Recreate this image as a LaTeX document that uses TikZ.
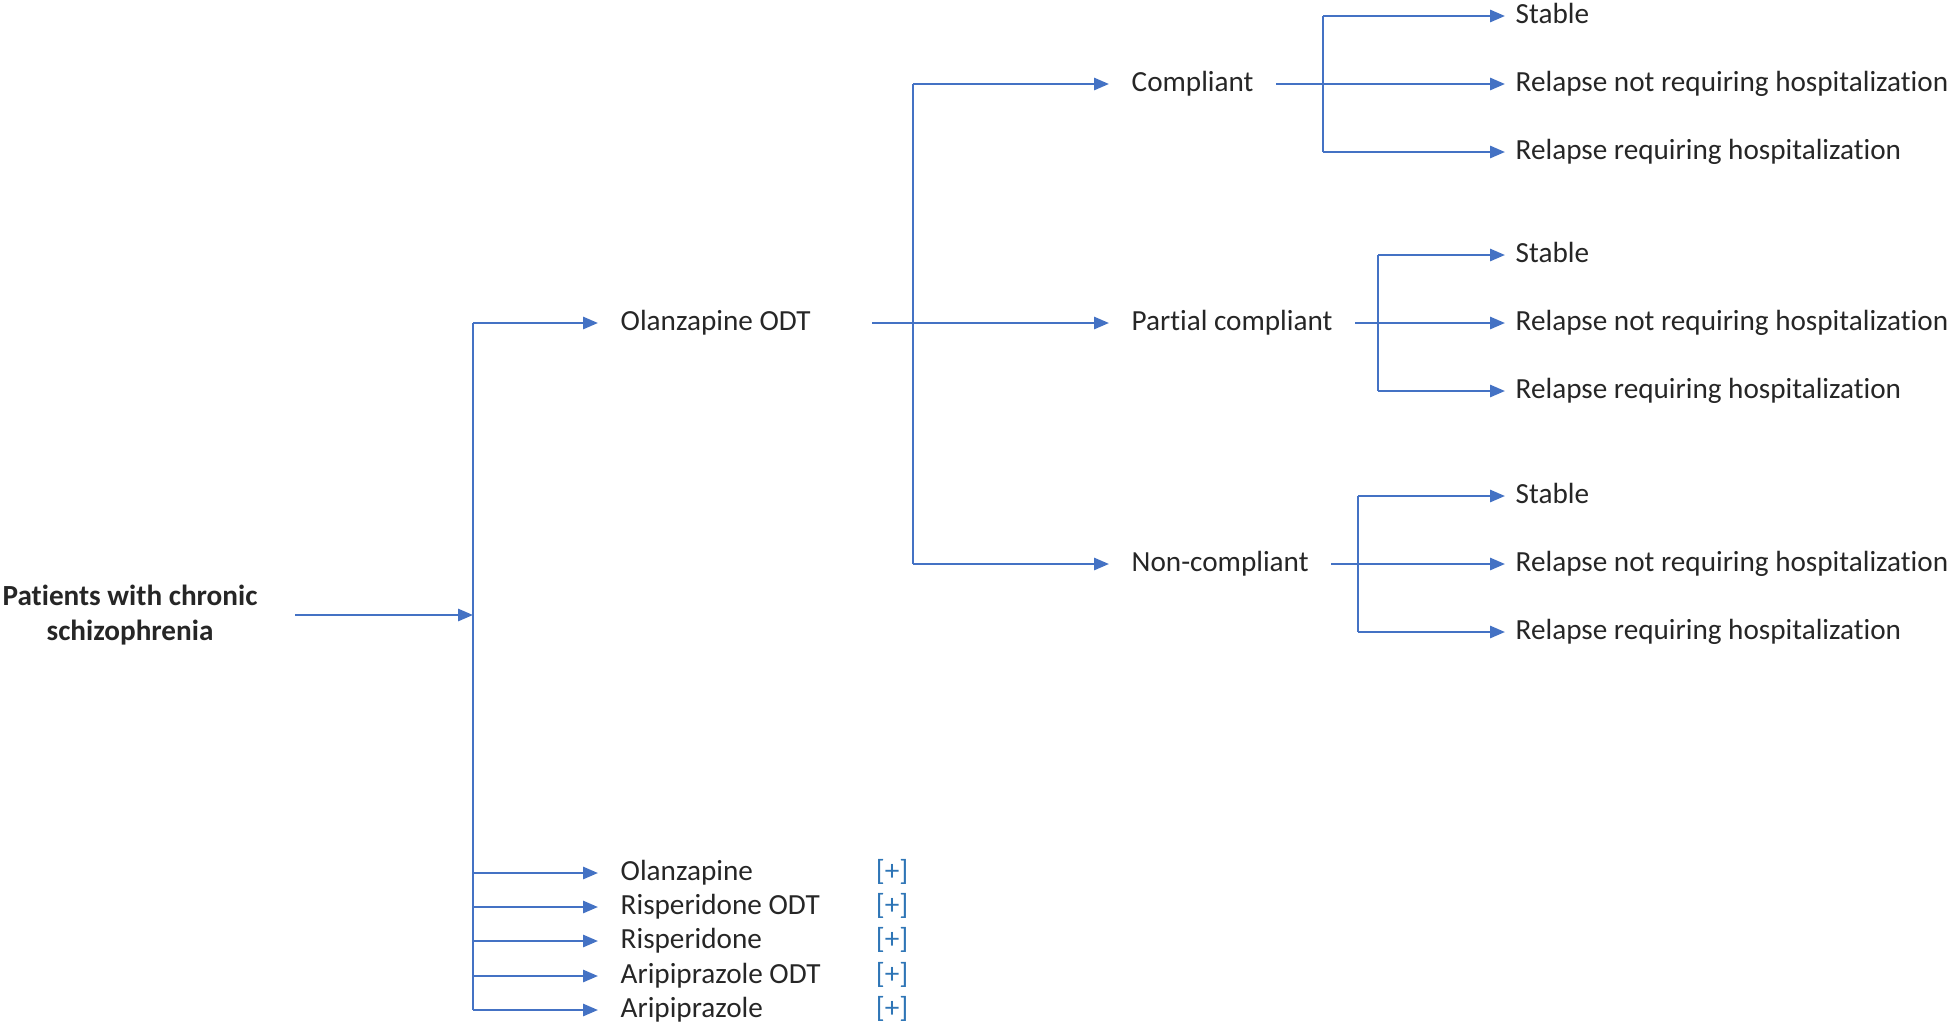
\documentclass[tikz,border=0pt]{standalone}
\usepackage{fontspec}
\setmainfont{Carlito}[Ligatures=NoCommon]
\usetikzlibrary{arrows.meta}
\definecolor{branchblue}{RGB}{68,114,196}
\definecolor{plusblue}{RGB}{46,117,182}
\tikzset{branch/.style={draw=branchblue, line width=0.7pt}}
\tikzset{arrowline/.style={branch, -{Triangle[length=4.2pt,width=3.4pt]}}}
\tikzset{txt/.style={font=\fontsize{8.3}{9.7}\selectfont, text=black!85, text height=5.8pt, text depth=1.6pt, inner ysep=0pt}}

\begin{document}
\begin{tikzpicture}
[x=0.01cm, y=-0.01cm,
 rootbox/.style={txt, font=\fontsize{8.3}{9.7}\selectfont\bfseries, align=center, inner xsep=0.37cm, text height=, text depth=},
 drug/.style={txt, anchor=west, inner xsep=0.22cm},
 state/.style={txt, anchor=west, inner xsep=0.22cm},
 leaf/.style={txt, anchor=west, inner xsep=0.1cm},
 plus/.style={txt, text=plusblue}]
\useasboundingbox (0,0) rectangle (1954,1024);

\node (root) at (130,615)[rootbox]{Patients with chronic\\schizophrenia};
\coordinate (trunk) at (473,0);

\node (odt) at (598,323)[drug]{Olanzapine ODT};
\coordinate (odtout) at (872,323);

\draw[branch] (odt.west -| trunk) -- (473,1010);
\draw[arrowline] (root.east) -- (root.east -| trunk);
\draw[arrowline] (odt.west -| trunk) -- (odt.west);

% other drugs
\foreach \name/\lbl/\y in {olz/Olanzapine/873, rodt/Risperidone ODT/907, ris/Risperidone/941, aodt/Aripiprazole ODT/976, ari/Aripiprazole/1010}{
  \node (\name) at (598,\y)[drug]{\lbl};
  \node (\name plus) at (892,\y)[plus]{[+]};
  \draw[arrowline] (\name.west -| trunk) -- (\name.west);
}

% compliance
\node (comp) at (1109,84)[state]{Compliant};
\node (part) at (1109,323)[state]{Partial compliant};
\node (non) at (1109,564)[state]{Non-compliant};
\coordinate (split) at (913,0);

\draw[branch] (comp.west -| split) -- (non.west -| split);
\draw[arrowline] (comp.west -| split) -- (comp.west);
\draw[arrowline] (odtout) -- (part.west);
\draw[arrowline] (non.west -| split) -- (non.west);

% outcomes
\foreach \g/\sx/\y in {comp/1323/84, part/1378/323, non/1358/564}{
  \node (\g s) at (1505,\y-68)[leaf]{Stable};
  \node (\g n) at (1505,\y)[leaf]{Relapse not requiring hospitalization};
  \node (\g r) at (1505,\y+68)[leaf]{Relapse requiring hospitalization};
  \coordinate (\g fork) at (\sx,\y);
  \draw[branch] (\g s.west -| \g fork) -- (\g r.west -| \g fork);
  \draw[arrowline] (\g.east) -- (\g n.west);
  \draw[arrowline] (\g s.west -| \g fork) -- (\g s.west);
  \draw[arrowline] (\g r.west -| \g fork) -- (\g r.west);
}
\end{tikzpicture}
\end{document}
